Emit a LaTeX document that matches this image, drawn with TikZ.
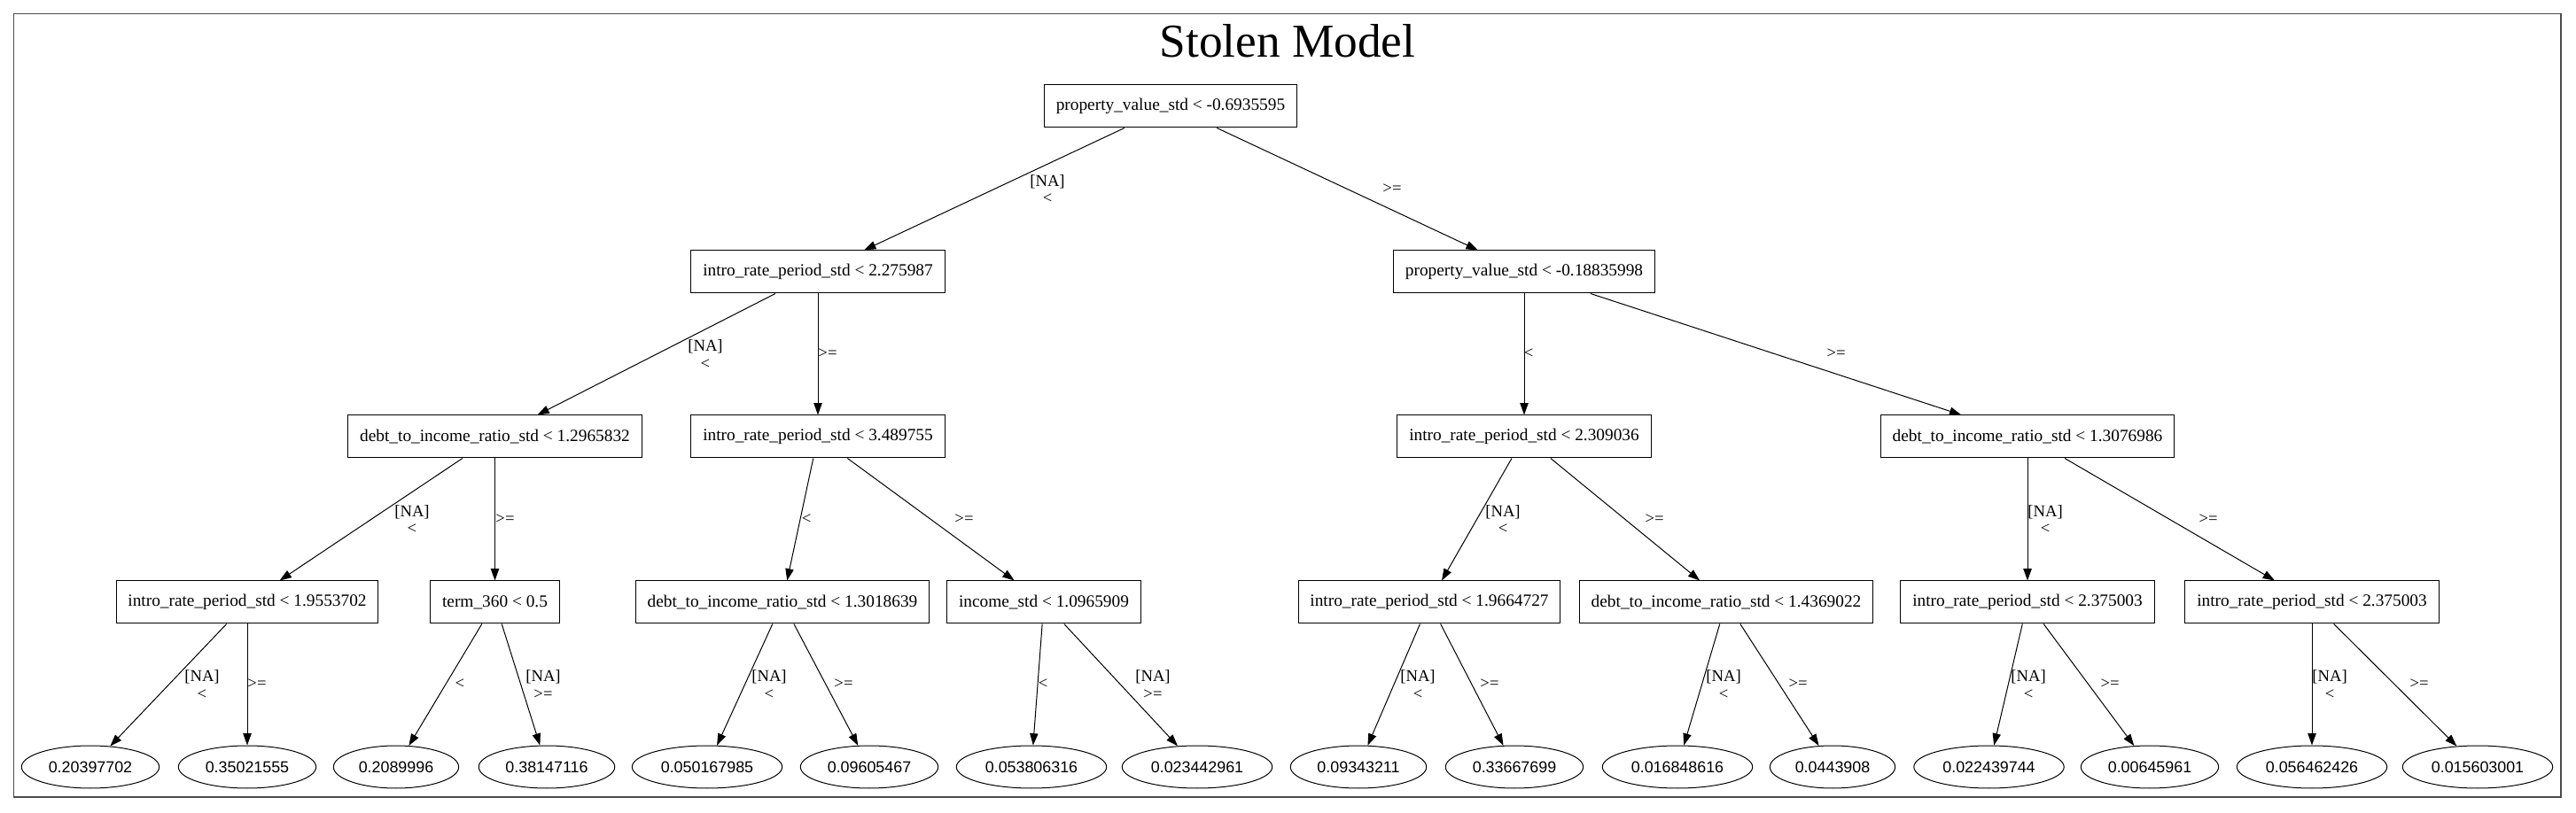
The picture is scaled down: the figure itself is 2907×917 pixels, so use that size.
\documentclass[tikz,border=0pt]{standalone}
\usepackage{fontspec}
\setmainfont{Liberation Serif}
\newfontfamily\leaffont{Liberation Sans}
\usetikzlibrary{arrows.meta}
\usetikzlibrary{shapes.geometric}

\begin{document}
\begin{tikzpicture}[x=0.75pt,y=0.75pt,
  split/.style={draw, rectangle, line width=0.75pt, minimum height=36pt, inner xsep=10pt, font=\fontsize{14.5pt}{17pt}\selectfont},
  leaf/.style={draw, ellipse, line width=0.75pt, minimum height=36pt, inner xsep=5.8pt, font=\leaffont\fontsize{13.4pt}{16pt}\selectfont},
  branch/.style={line width=0.75pt, -{Triangle[length=10pt,width=7pt]}},
  cond/.style={align=center, inner sep=0pt, font=\fontsize{14pt}{14.5pt}\selectfont}]
\useasboundingbox (0,0) rectangle (2907,917);
\draw [black!70, line width=1pt] (15.5,17) rectangle (2890,901.5);
\node [anchor=base, font=\fontsize{40pt}{48pt}\selectfont] (title) at (1453,852) {Stolen Model};

\node [split] (root) at (1321,797) {property\_value\_std < -0.6935595};
\node [split] (L) at (923,610) {intro\_rate\_period\_std < 2.275987};
\node [split] (R) at (1720,610) {property\_value\_std < -0.18835998};
\node [split] (LL) at (558.5,424) {debt\_to\_income\_ratio\_std < 1.2965832};
\node [split] (LR) at (923,424) {intro\_rate\_period\_std < 3.489755};
\node [split] (RL) at (1720,424) {intro\_rate\_period\_std < 2.309036};
\node [split] (RR) at (2288,424) {debt\_to\_income\_ratio\_std < 1.3076986};
\node [split] (LLL) at (279,237) {intro\_rate\_period\_std < 1.9553702};
\node [split] (LLR) at (558.5,237) {term\_360 < 0.5};
\node [split] (LRL) at (883,237) {debt\_to\_income\_ratio\_std < 1.3018639};
\node [split] (LRR) at (1178,237) {income\_std < 1.0965909};
\node [split] (RLL) at (1613,237) {intro\_rate\_period\_std < 1.9664727};
\node [split] (RLR) at (1948,237) {debt\_to\_income\_ratio\_std < 1.4369022};
\node [split] (RRL) at (2288,237) {intro\_rate\_period\_std < 2.375003};
\node [split] (RRR) at (2609,237) {intro\_rate\_period\_std < 2.375003};

\node [leaf] (LLLL) at (102,51) {0.20397702};
\node [leaf] (LLLR) at (279,51) {0.35021555};
\node [leaf] (LLRL) at (447,51) {0.2089996};
\node [leaf] (LLRR) at (617,51) {0.38147116};
\node [leaf] (LRLL) at (798,51) {0.050167985};
\node [leaf] (LRLR) at (981,51) {0.09605467};
\node [leaf] (LRRL) at (1164,51) {0.053806316};
\node [leaf] (LRRR) at (1351,51) {0.023442961};
\node [leaf] (RLLL) at (1533,51) {0.09343211};
\node [leaf] (RLLR) at (1709,51) {0.33667699};
\node [leaf] (RLRL) at (1893,51) {0.016848616};
\node [leaf] (RLRR) at (2068,51) {0.0443908};
\node [leaf] (RRLL) at (2244.5,51) {0.022439744};
\node [leaf] (RRLR) at (2426,51) {0.00645961};
\node [leaf] (RRRL) at (2609,51) {0.056462426};
\node [leaf] (RRRR) at (2796,51) {0.015603001};

\draw [branch] (root) -- (L);
\draw [branch] (root) -- (R);
\draw [branch] (L) -- (LL);
\draw [branch] (L) -- (LR);
\draw [branch] (R) -- (RL);
\draw [branch] (R) -- (RR);
\draw [branch] (LL) -- (LLL);
\draw [branch] (LL) -- (LLR);
\draw [branch] (LR) -- (LRL);
\draw [branch] (LR) -- (LRR);
\draw [branch] (RL) -- (RLL);
\draw [branch] (RL) -- (RLR);
\draw [branch] (RR) -- (RRL);
\draw [branch] (RR) -- (RRR);
\draw [branch] (LLL) -- (LLLL);
\draw [branch] (LLL) -- (LLLR);
\draw [branch] (LLR) -- (LLRL);
\draw [branch] (LLR) -- (LLRR);
\draw [branch] (LRL) -- (LRLL);
\draw [branch] (LRL) -- (LRLR);
\draw [branch] (LRR) -- (LRRL);
\draw [branch] (LRR) -- (LRRR);
\draw [branch] (RLL) -- (RLLL);
\draw [branch] (RLL) -- (RLLR);
\draw [branch] (RLR) -- (RLRL);
\draw [branch] (RLR) -- (RLRR);
\draw [branch] (RRL) -- (RRLL);
\draw [branch] (RRL) -- (RRLR);
\draw [branch] (RRR) -- (RRRL);
\draw [branch] (RRR) -- (RRRR);

\node [cond] (c-L) at (1182,703.5) {[NA]\\<};
\node [cond] (c-R) at (1571,704) {>=};
\node [cond] (c-LL) at (796,517) {[NA]\\<};
\node [cond] (c-LR) at (934,518) {>=};
\node [cond] (c-RL) at (1725,518) {<};
\node [cond] (c-RR) at (2072,518) {>=};
\node [cond] (c-LLL) at (465,330.5) {[NA]\\<};
\node [cond] (c-LLR) at (570,331) {>=};
\node [cond] (c-LRL) at (910,331) {<};
\node [cond] (c-LRR) at (1088,331) {>=};
\node [cond] (c-RLL) at (1696,330.5) {[NA]\\<};
\node [cond] (c-RLR) at (1867,331) {>=};
\node [cond] (c-RRL) at (2308,330.5) {[NA]\\<};
\node [cond] (c-RRR) at (2492,331) {>=};
\node [cond] (c-LLLL) at (228,144) {[NA]\\<};
\node [cond] (c-LLLR) at (290,145) {>=};
\node [cond] (c-LLRL) at (519,145) {<};
\node [cond] (c-LLRR) at (613,144) {[NA]\\>=};
\node [cond] (c-LRLL) at (868,144) {[NA]\\<};
\node [cond] (c-LRLR) at (952,145) {>=};
\node [cond] (c-LRRL) at (1177,145) {<};
\node [cond] (c-LRRR) at (1301,144) {[NA]\\>=};
\node [cond] (c-RLLL) at (1600,144) {[NA]\\<};
\node [cond] (c-RLLR) at (1681,145) {>=};
\node [cond] (c-RLRL) at (1945,144) {[NA]\\<};
\node [cond] (c-RLRR) at (2029,145) {>=};
\node [cond] (c-RRLL) at (2289,144) {[NA]\\<};
\node [cond] (c-RRLR) at (2381,145) {>=};
\node [cond] (c-RRRL) at (2629,144) {[NA]\\<};
\node [cond] (c-RRRR) at (2730,145) {>=};
\end{tikzpicture}
\end{document}
